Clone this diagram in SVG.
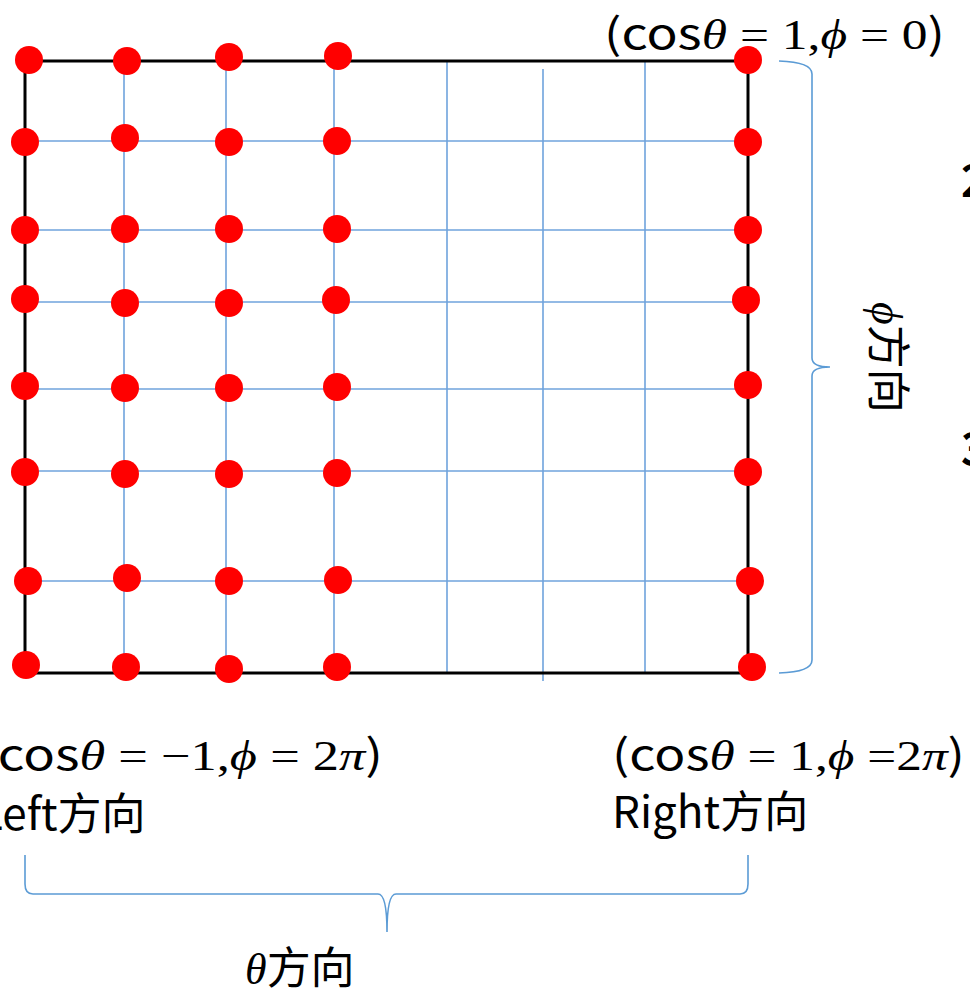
<svg xmlns="http://www.w3.org/2000/svg" width="970" height="995" viewBox="0 0 970 995">
<style>
.grid{stroke:#6FA3DC;stroke-width:1.6;fill:none}
.border{stroke:#000;stroke-width:3;fill:none}
.brace{stroke:#5B9BD5;stroke-width:1.6;fill:none}
.dot{fill:#FF0000}
.sans{font-family:"Noto Sans CJK SC","Noto Sans",sans-serif;fill:#000}
.m{font-family:"Liberation Serif","DejaVu Serif",serif}
.mi{font-family:"Liberation Serif","DejaVu Serif",serif;font-style:italic}
</style>
<rect width="970" height="995" fill="#fff"/>
<g id="connectors">
  <g id="grid-lines">
    <line class="grid" x1="124" y1="61" x2="124" y2="673"/>
    <line class="grid" x1="226" y1="61" x2="226" y2="673"/>
    <line class="grid" x1="334" y1="61" x2="334" y2="673"/>
    <line class="grid" x1="447" y1="61" x2="447" y2="673"/>
    <line class="grid" x1="543" y1="69" x2="543" y2="681"/>
    <line class="grid" x1="645" y1="61" x2="645" y2="673"/>
    <line class="grid" x1="25" y1="141" x2="748" y2="141"/>
    <line class="grid" x1="25" y1="230" x2="748" y2="230"/>
    <line class="grid" x1="25" y1="302" x2="748" y2="302"/>
    <line class="grid" x1="25" y1="389" x2="748" y2="389"/>
    <line class="grid" x1="25" y1="471" x2="748" y2="471"/>
    <line class="grid" x1="25" y1="581" x2="748" y2="581"/>
  </g>
  <rect id="border" class="border" x="25" y="61" width="723" height="612"/>
  <path id="phi-brace" class="brace" d="M779,61 Q812,62 812,74 L812,358 Q812,367 830,367 Q812,367 812,376 L812,660 Q812,672 779,673"/>
  <path id="theta-brace" class="brace" d="M25,855 L25,884 Q25,894 33,894 L378,894 Q387,894 387,932 Q387,894 396,894 L740,894 Q748,894 748,884 L748,855"/>
</g>
<g id="points">
  <g id="row1"><circle class="dot" cx="29" cy="60" r="14"/><circle class="dot" cx="127" cy="61" r="14"/><circle class="dot" cx="229" cy="57" r="14"/><circle class="dot" cx="338" cy="56" r="14"/><circle class="dot" cx="748" cy="60" r="14"/></g>
  <g id="row2"><circle class="dot" cx="25" cy="142" r="14"/><circle class="dot" cx="125" cy="138" r="14"/><circle class="dot" cx="229" cy="142" r="14"/><circle class="dot" cx="337" cy="141" r="14"/><circle class="dot" cx="748" cy="142" r="14"/></g>
  <g id="row3"><circle class="dot" cx="25" cy="230" r="14"/><circle class="dot" cx="125" cy="229" r="14"/><circle class="dot" cx="229" cy="229" r="14"/><circle class="dot" cx="337" cy="229" r="14"/><circle class="dot" cx="748" cy="230" r="14"/></g>
  <g id="row4"><circle class="dot" cx="25" cy="299" r="14"/><circle class="dot" cx="125" cy="303" r="14"/><circle class="dot" cx="229" cy="303" r="14"/><circle class="dot" cx="336" cy="300" r="14"/><circle class="dot" cx="746" cy="300" r="14"/></g>
  <g id="row5"><circle class="dot" cx="25" cy="386" r="14"/><circle class="dot" cx="125" cy="388" r="14"/><circle class="dot" cx="229" cy="388" r="14"/><circle class="dot" cx="337" cy="387" r="14"/><circle class="dot" cx="748" cy="385" r="14"/></g>
  <g id="row6"><circle class="dot" cx="25" cy="472" r="14"/><circle class="dot" cx="125" cy="474" r="14"/><circle class="dot" cx="229" cy="474" r="14"/><circle class="dot" cx="337" cy="473" r="14"/><circle class="dot" cx="748" cy="472" r="14"/></g>
  <g id="row7"><circle class="dot" cx="28" cy="581" r="14"/><circle class="dot" cx="127" cy="578" r="14"/><circle class="dot" cx="229" cy="581" r="14"/><circle class="dot" cx="338" cy="580" r="14"/><circle class="dot" cx="750" cy="581" r="14"/></g>
  <g id="row8"><circle class="dot" cx="26" cy="665" r="14"/><circle class="dot" cx="126" cy="667" r="14"/><circle class="dot" cx="229" cy="669" r="14"/><circle class="dot" cx="337" cy="667" r="14"/><circle class="dot" cx="752" cy="667" r="14"/></g>
</g>
<g id="label-top-right">
  <text class="sans" x="604" y="49" font-size="42" textLength="341" lengthAdjust="spacingAndGlyphs">(cos<tspan class="mi">θ</tspan><tspan class="m"> = 1,</tspan><tspan class="mi">ϕ</tspan><tspan class="m"> = 0</tspan>)</text>
</g>
<g id="label-bottom-left">
  <text class="sans" x="-20" y="770" font-size="42" textLength="403" lengthAdjust="spacingAndGlyphs">(cos<tspan class="mi">θ</tspan><tspan class="m"> = −1,</tspan><tspan class="mi">ϕ</tspan><tspan class="m"> = 2</tspan><tspan class="mi">π</tspan>)</text>
  <text class="sans" x="-21" y="830" font-size="44">Left方向</text>
</g>
<g id="label-bottom-right">
  <text class="sans" x="612" y="770" font-size="42" textLength="353" lengthAdjust="spacingAndGlyphs">(cos<tspan class="mi">θ</tspan><tspan class="m"> = 1,</tspan><tspan class="mi">ϕ</tspan><tspan class="m"> =2</tspan><tspan class="mi">π</tspan>)</text>
  <text class="sans" x="612" y="828" font-size="44">Right方向</text>
</g>
<g id="label-phi">
  <text class="sans" x="872" y="302" font-size="44" transform="rotate(90 872 302)"><tspan class="mi">ϕ</tspan>方向</text>
</g>
<g id="label-theta">
  <text class="sans" x="245" y="984" font-size="44"><tspan class="mi">θ</tspan>方向</text>
</g>
<g id="edge-digits">
  <text class="sans" x="961" y="197" font-size="44" font-weight="bold">2</text>
  <text class="sans" x="961" y="465" font-size="44" font-weight="bold">3</text>
</g>
</svg>
